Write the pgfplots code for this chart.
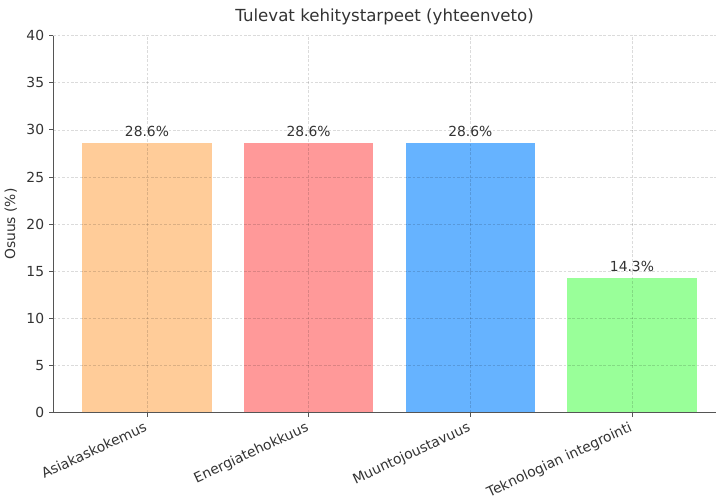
\documentclass[border=0pt]{standalone}
\usepackage{pgfplots}
\pgfplotsset{compat=1.18}
\usepackage{fontspec}
\setmainfont{DejaVu Sans}
\definecolor{c1}{HTML}{FFCC99}
\definecolor{c2}{HTML}{FF9999}
\definecolor{c3}{HTML}{66B3FF}
\definecolor{c4}{HTML}{99FF99}
\definecolor{txt}{HTML}{333333}
\definecolor{spine}{HTML}{555555}
\begin{document}
\begin{tikzpicture}[x=1pt,y=1pt]
\begin{axis}[
  name=ax,
  scale only axis,
  width=478pt, height=271.8pt,
  xmin=-0.58, xmax=3.52,
  ymin=0, ymax=40,
  ytick={0,5,...,40},
  xtick={0,1,2,3},
  xticklabels={Asiakaskokemus,Energiatehokkuus,Muuntojoustavuus,Teknologian integrointi},
  xticklabel style={rotate=25, anchor=north east, inner sep=1.5pt, xshift=-2pt, font=\fontsize{10}{12}\selectfont, text=txt},
  yticklabel style={font=\fontsize{10}{12}\selectfont, text=txt},
  /pgf/number format/assume math mode=true,
  axis x line*=bottom, axis y line*=left,
  axis line style={spine, line width=0.8pt},
  x axis line style={-}, y axis line style={-},
  tick style={spine, line width=0.6pt},
  tick align=outside, major tick length=3pt,
  grid=major,
  major grid style={black, draw opacity=0.14, dash pattern=on 2pt off 1.2pt, line width=0.5pt},
  axis on top,
  ybar, bar width=0.8, bar shift=0pt,
  ylabel={Osuus (\%)},
  ylabel style={font=\fontsize{10}{12}\selectfont, text=txt},
  title={Tulevat kehitystarpeet (yhteenveto)},
  title style={font=\fontsize{12}{14}\selectfont, text=txt, yshift=-2pt},
  nodes near coords={\pgfmathprintnumber[fixed, precision=1, fixed zerofill]{\pgfplotspointmeta}\%},
  nodes near coords style={font=\fontsize{10}{12}\selectfont, text=txt, anchor=south, yshift=1pt},
]
\addplot[fill=c1, draw=none] coordinates {(0,28.57)};
\addplot[fill=c2, draw=none] coordinates {(1,28.57)};
\addplot[fill=c3, draw=none] coordinates {(2,28.57)};
\addplot[fill=c4, draw=none] coordinates {(3,14.29)};
\end{axis}
\useasboundingbox ([shift={(-37.2pt,-58.3pt)}]ax.south west) rectangle ([shift={(0.7pt,25.7pt)}]ax.north east);
\end{tikzpicture}
\end{document}
